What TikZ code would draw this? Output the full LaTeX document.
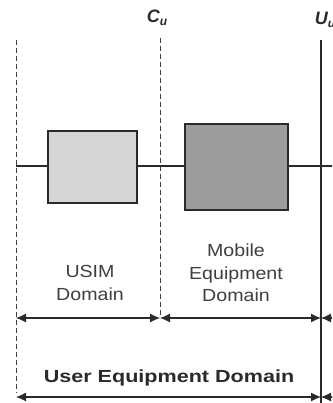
\documentclass[tikz,border=0pt]{standalone}
\usepackage{fontspec}
\setmainfont{Liberation Sans}
\usetikzlibrary{arrows.meta}
\definecolor{inkgray}{HTML}{2A2A2A}
\definecolor{simfill}{HTML}{D6D6D6}
\definecolor{mefill}{HTML}{9C9C9C}
\tikzset{
  domainbox/.style={draw=inkgray, line width=2pt, minimum width=#1},
  refline/.style={inkgray!90, line width=1pt, dash pattern=on 5pt off 3pt},
  spanarrow/.style={inkgray, line width=1.1pt, {Latex[length=10pt,width=9pt]}-{Latex[length=10pt,width=9pt]}},
  domlabel/.style={text=inkgray!90, font=\fontsize{17.5}{22.5}\selectfont, align=center, xscale=1.12},
  reflabel/.style={text=inkgray, font=\fontsize{18}{20}\selectfont\bfseries\itshape}
}
\begin{document}
\begin{tikzpicture}[x=1pt,y=-1pt]
\clip (0,0) rectangle (332,403);
\fill[white] (0,0) rectangle (332,403);
% reference points
\coordinate (ltop) at (16,40); \coordinate (lbot) at (16,393);
\coordinate (ctop) at (160,38); \coordinate (cbot) at (160,316);
\coordinate (rtop) at (321,40); \coordinate (rbot) at (321,403);
\coordinate (hl) at (16,166); \coordinate (hr) at (340,166);
\draw[refline] (ltop)--(lbot);
\draw[refline] (ctop)--(cbot);
\draw[inkgray, line width=2.2pt] (rtop)--(rbot);
\draw[inkgray, line width=1.8pt] (hl)--(hr);
\node[reflabel] (cu) at (157,18) {C\raisebox{-0.35ex}{\fontsize{12}{12}\selectfont u}};
\node[reflabel] (uu) at (325,20) {U\raisebox{-0.35ex}{\fontsize{12}{12}\selectfont u}};
% domains
\node[domainbox=89pt, fill=simfill, minimum height=72pt] (usim) at (92.5,167) {};
\node[domainbox=103pt, fill=mefill, minimum height=86pt] (me) at (236.5,167) {};
\node[domlabel] (usimtxt) at (90,283) {USIM\\Domain};
\node[domlabel] (metxt) at (236,273) {Mobile\\Equipment\\Domain};
\node[domlabel, font=\fontsize{17.5}{20}\selectfont\bfseries, text=inkgray, xscale=1.1] (uetxt) at (169,378) {User Equipment Domain};
% spans
\coordinate (a1) at (16,318); \coordinate (a2) at (160,318); \coordinate (a3) at (321,318); \coordinate (a4) at (360,318);
\coordinate (b1) at (16,397); \coordinate (b3) at (321,397); \coordinate (b4) at (360,397);
\draw[spanarrow] (a1)--(a2);
\draw[spanarrow] (a2)--(a3);
\draw[spanarrow] (a3)--(a4);
\draw[spanarrow] (b1)--(b3);
\draw[spanarrow] (b3)--(b4);
\end{tikzpicture}
\end{document}
